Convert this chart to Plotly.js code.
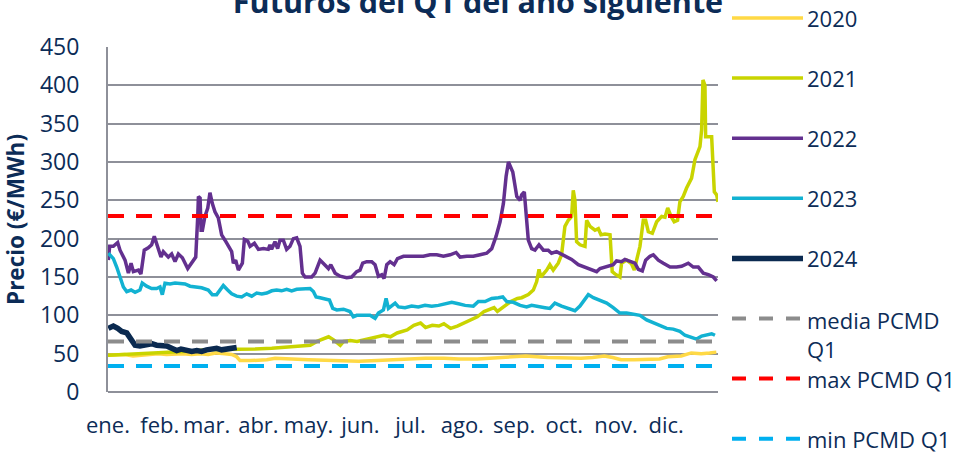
<!DOCTYPE html>
<html>
<head>
<meta charset="utf-8">
<script src="https://cdn.plot.ly/plotly-3.0.1.min.js"></script>
<style>
html,body{margin:0;padding:0;background:#ffffff;}
#chart{width:966px;height:452px;}
</style>
</head>
<body>
<div id="chart"></div>
<script>
// ---------- DATA ----------
const monthDays   = [0, 31, 59, 90, 120, 151, 181, 212, 243, 273, 304, 334];
const monthLabels = ['ene.', 'feb.', 'mar.', 'abr.', 'may.', 'jun.', 'jul.', 'ago.', 'sep.', 'oct.', 'nov.', 'dic.'];
const yTickVals   = [0, 50, 100, 150, 200, 250, 300, 350, 400, 450];

// [day of year, €/MWh]
const s2020 = [[0,48],[5,48],[10,49],[15,47],[20,48],[25,49],[30,50],[35,49],[40,50],[45,50],[50,49],[55,50],[60,49],[65,51],[70,50],[74,49],[77,46],[79,41],[85,41],[90,41],[95,42],[100,44],[105,43],[110,43],[120,42],[130,41],[141,40],[150,40],[161,41],[170,42],[181,44],[190,44],[201,44],[210,43],[221,43],[230,44],[241,46],[250,47],[263,45],[273,44],[283,44],[290,45],[297,47],[302,45],[307,42],[315,42],[323,42],[330,43],[335,46],[343,47],[349,51],[355,50],[360,51],[364,52]];

const s2021 = [[0,48],[10,49],[18,50],[28,51],[38,52],[48,53],[58,55],[68,55],[78,55],[88,56],[98,57],[108,59],[118,61],[121,61],[125,66],[129,70],[132,72],[135,68],[139,61],[141,66],[145,67],[149,66],[153,68],[157,70],[161,72],[165,74],[169,72],[173,77],[179,81],[183,87],[187,90],[190,84],[194,87],[198,86],[201,89],[205,83],[209,86],[213,90],[217,93],[221,98],[225,105],[228,107],[231,110],[233,105],[237,111],[241,118],[245,122],[247.5,123],[251.5,127],[254.5,133],[256.5,144],[257.9,160],[259,150],[262.5,159],[264.4,166],[266.4,159],[269.4,168],[271.4,179],[273.4,216],[275.4,224],[277.4,229],[278.4,263],[279.4,250],[280.4,196],[282.4,192],[285.4,190],[286.4,224],[288.4,216],[291.4,211],[293.4,213],[295,205],[297.4,206],[300.4,205],[301.7,157],[303.3,154],[306.3,150],[307.3,168],[310.3,172],[313.3,167],[314.9,159],[316.3,172],[318.3,190],[320.3,224],[321.7,224],[323.3,209],[325.7,207],[328.3,222],[331.3,229],[333.3,228],[334.9,240],[336.9,229],[338.8,222],[340.8,224],[342.2,248],[344.2,255],[346.2,266],[349.2,279],[351.2,303],[354.2,320],[355.2,342],[356,407],[357.2,400],[357.6,333],[361.2,333],[362.8,261],[364.2,257],[365,248]];

const s2022 = [[0.2,172],[1,190],[3.2,190],[5.8,195],[7.2,185],[10.2,172],[12.2,155],[13.8,168],[15.2,157],[18.2,159],[19.7,154],[21.7,185],[24.1,188],[26.1,192],[27.7,203],[29.7,190],[31.7,176],[33.1,183],[36.1,176],[38.1,180],[40.1,170],[42.1,180],[44.5,175],[47.7,161],[50.1,168],[52.5,176],[53.7,229],[54.1,255],[55.1,253],[55.7,211],[56.5,211],[58,229],[59.7,240],[61,260],[62.4,246],[64,235],[66,227],[68,205],[70,198],[72.4,190],[74,183],[75,168],[76.4,172],[78,159],[80.4,168],[81.6,199],[83.6,197],[85,190],[87.6,194],[90,186],[93,187],[95.9,186],[96.9,192],[97.9,186],[99.9,196],[101.5,187],[102.9,198],[104.9,198],[106.9,186],[108.9,190],[110.9,200],[112.9,201],[114.9,190],[116.3,155],[117.9,150],[121.9,150],[123.9,155],[126.9,172],[129.9,166],[131.9,161],[133.3,166],[135.9,155],[138.9,151],[142.8,149],[145.8,150],[148.8,157],[150.8,159],[152.4,168],[154.8,170],[157.8,170],[159.8,166],[161.8,151],[163.8,153],[165.2,148],[166.8,166],[168.8,170],[171.2,166],[173.2,174],[176.8,177],[180.7,177],[184.7,176],[188.7,177],[192.7,179],[196.7,179],[200.7,177],[204.7,179],[208.3,182],[210.7,176],[214.7,177],[218.6,177],[222.6,179],[226.6,181],[229.6,187],[232.2,203],[234.6,222],[236.6,246],[238.2,281],[239.6,300],[242.2,287],[244.6,255],[246.6,250],[247.5,257],[249.1,261],[250.5,224],[251.5,198],[253.5,187],[255.5,185],[257.9,192],[260.5,185],[263.4,185],[265.4,181],[268.4,183],[271.4,180],[273.4,177],[277.4,173],[281.4,166],[285.4,163],[289.4,160],[292.4,157],[294.4,161],[298.4,163],[302.3,166],[304.3,171],[307.3,170],[309.3,173],[312.3,170],[315.3,168],[317.3,160],[319.7,158],[321.7,172],[324.3,177],[326.3,179],[329.3,172],[332.3,168],[336.3,163],[340.2,163],[343.2,164],[347.2,168],[350.2,163],[353.2,163],[356.2,155],[359.2,153],[362.2,150],[364.2,145]];

const s2023 = [[0.2,181],[3.2,174],[5.2,163],[7.2,148],[9.2,137],[11.2,131],[13.8,133],[16.2,130],[19.1,133],[20.5,142],[23.1,138],[26.1,135],[29.1,135],[31.1,137],[32.5,127],[34.1,142],[37.1,141],[40.1,142],[43.1,142],[46.1,141],[49.1,138],[52.1,137],[56,136],[60,133],[62.4,127],[65,127],[67,133],[69,139],[71.6,133],[74,128],[77,125],[80,124],[83,128],[86,125],[89,129],[92,128],[95,129],[98,132],[100.9,133],[103.9,132],[106.9,134],[109.9,132],[112.9,134],[116.9,135],[120.9,135],[122.9,131],[124.5,124],[126.9,123],[129.9,122],[132.5,120],[134.5,109],[136.9,107],[140.9,108],[144.8,105],[146.8,98],[148.8,100],[152.8,100],[156.8,100],[159.8,96],[161.8,103],[164.8,107],[166.4,122],[167.8,109],[169.8,112],[171.8,116],[173.8,111],[177.7,110],[181.7,112],[185.7,111],[189.7,113],[193.7,112],[197.7,113],[201.7,115],[205.7,117],[209.7,115],[213.7,113],[218.6,112],[221.6,118],[225.6,118],[229.6,122],[233.6,123],[236.2,124],[238.6,118],[242.6,117],[246.6,113],[250.5,111],[253.5,113],[257.5,112],[261.5,110],[264.4,109],[267.4,116],[271.4,112],[275.4,109],[279.4,106],[282.4,112],[285.4,120],[287.4,127],[290.4,123],[294.4,120],[298.4,116],[302.3,110],[306.3,103],[310.3,103],[314.3,102],[318.3,100],[322.3,94],[326.3,90],[330.3,87],[334.3,83],[338.2,82],[342.2,79],[345.2,74],[348.2,72],[352.2,69],[355.2,73],[358.2,74],[361.2,76],[363.2,74]];

const s2024 = [[0.2,83],[3.2,86],[5.8,83],[8.2,79],[11.2,77],[13.8,68],[16.2,61],[19.1,60],[22.1,61],[26.1,63],[29.1,61],[32.1,61],[35.1,60],[38.1,57],[41.1,54],[43.7,56],[47.1,55],[50.1,53],[53.1,54],[56,53],[59,55],[62,56],[65,57],[68,55],[71,56],[74,56],[77,58]];

const mediaPCMD = 66;
const maxPCMD   = 229.5;
const minPCMD   = 34;
const yearRange = [0, 365];

const seriesNames = ['2020', '2021', '2022', '2023', '2024', 'media PCMD Q1', 'max PCMD Q1', 'min PCMD Q1'];
const legendTexts = ['2020', '2021', '2022', '2023', '2024', 'media PCMD<br>Q1', 'max PCMD Q1', 'min PCMD Q1'];

// ---------- STYLE ----------
const NAVY = '#0c2c57';
const GRID = '#8e9099';
const FONT = '"Open Sans", "Noto Sans", "Liberation Sans", sans-serif';
const styles = [
  {color: '#ffd945', width: 3.5, dash: 'solid'},
  {color: '#c9d400', width: 3.5, dash: 'solid'},
  {color: '#63308f', width: 3.5, dash: 'solid'},
  {color: '#12b2d2', width: 3.5, dash: 'solid'},
  {color: '#0b2a50', width: 5.5, dash: 'solid'},
  {color: '#8c8c8c', width: 4,   dash: '16px,12px'},
  {color: '#ff0000', width: 4,   dash: '16px,12px'},
  {color: '#00b0f0', width: 4,   dash: '16px,12px'}
];

const seriesData = [s2020, s2021, s2022, s2023, s2024];
const traces = [];
seriesData.forEach((s, i) => {
  traces.push({
    type: 'scatter', mode: 'lines', name: seriesNames[i],
    x: s.map(p => p[0]), y: s.map(p => p[1]),
    line: {color: styles[i].color, width: styles[i].width, dash: styles[i].dash, shape: 'linear'},
    hoverinfo: 'skip', showlegend: false, cliponaxis: true
  });
});
[mediaPCMD, maxPCMD, minPCMD].forEach((v, k) => {
  const i = 5 + k;
  traces.push({
    type: 'scatter', mode: 'lines', name: seriesNames[i],
    x: yearRange, y: [v, v],
    line: {color: styles[i].color, width: styles[i].width, dash: styles[i].dash},
    hoverinfo: 'skip', showlegend: false
  });
});

// ---------- LAYOUT ----------
const W = 966, H = 452;
const plotL = 108, plotR = 718, plotT = 47, plotB = 392;
const pw = plotR - plotL, ph = plotB - plotT;
const px2x = px => (px - plotL) / pw;
const py2y = py => (plotB - py) / ph;

// custom legend
const legX0 = 732, legX1 = 803, legTextX = 806, legY0 = 18, legStep = 60.1;
const shapes = [], annotations = [];
seriesNames.forEach((n, i) => {
  const yy = legY0 + i * legStep;
  shapes.push({
    type: 'line', xref: 'paper', yref: 'paper',
    x0: px2x(legX0), x1: px2x(legX1), y0: py2y(yy), y1: py2y(yy),
    line: {color: styles[i].color, width: styles[i].width, dash: i >= 5 ? '14px,13px' : 'solid'}
  });
  const multi = legendTexts[i].indexOf('<br>') >= 0;
  annotations.push({
    xref: 'paper', yref: 'paper', x: px2x(legTextX),
    y: multi ? py2y(yy - 15) : py2y(yy),
    xanchor: 'left', yanchor: multi ? 'top' : 'middle', align: 'left',
    text: legendTexts[i], showarrow: false, borderpad: 0,
    font: {family: FONT, size: 22, color: NAVY}
  });
});

const layout = {
  width: W, height: H,
  paper_bgcolor: '#ffffff', plot_bgcolor: '#ffffff',
  margin: {l: plotL, r: W - plotR, t: plotT, b: H - plotB, pad: 0},
  showlegend: false,
  title: {
    text: '<b>Futuros del Q1 del año siguiente</b>',
    x: 478 / W, xanchor: 'center', xref: 'container',
    y: 0.995, yanchor: 'middle', yref: 'container',
    font: {family: FONT, size: 30.5, color: NAVY}
  },
  xaxis: {
    type: 'linear', range: yearRange, fixedrange: true,
    tickmode: 'array', tickvals: monthDays, ticktext: monthLabels,
    showgrid: false, zeroline: false, showline: false, ticks: '',
    ticklabelstandoff: 18,
    tickfont: {family: FONT, size: 22, color: NAVY}
  },
  yaxis: {
    range: [0, 450], fixedrange: true,
    tickmode: 'array', tickvals: yTickVals,
    showgrid: true, gridcolor: GRID, gridwidth: 2,
    zeroline: true, zerolinecolor: GRID, zerolinewidth: 2,
    showline: true, linecolor: GRID, linewidth: 2, ticks: '',
    ticklabelstandoff: 22,
    tickfont: {family: FONT, size: 23, color: NAVY},
    title: {text: '<b>Precio (€/MWh)</b>', standoff: 12, font: {family: FONT, size: 22.5, color: NAVY}}
  },
  shapes: shapes,
  annotations: annotations,
  font: {family: FONT, color: NAVY}
};

Plotly.newPlot('chart', traces, layout, {staticPlot: true, displayModeBar: false});
</script>
</body>
</html>
